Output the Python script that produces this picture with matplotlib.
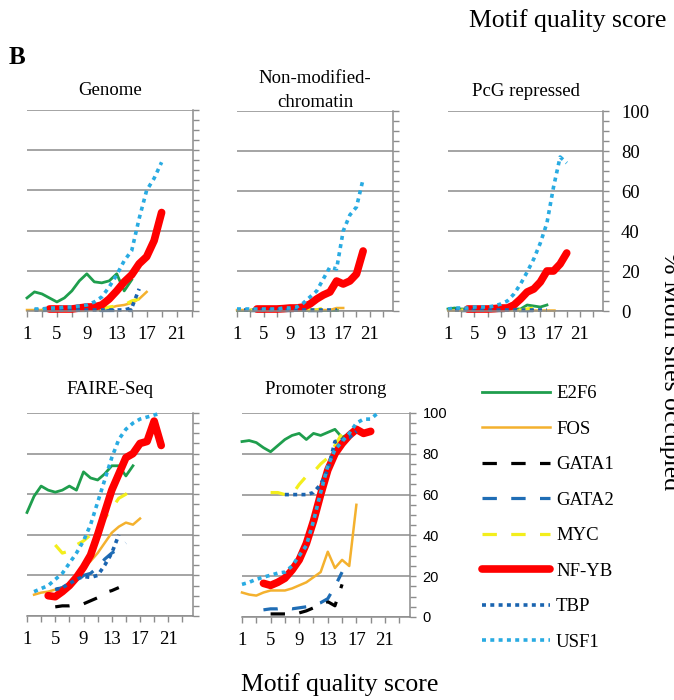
import matplotlib
matplotlib.use('Agg')
import matplotlib.pyplot as plt
from matplotlib.ticker import MultipleLocator
import numpy as np

plt.rcParams['font.family'] = 'Liberation Serif'

# each series: (first motif score, % sites occupied from that score on)
FACTORS = ['E2F6', 'FOS', 'GATA1', 'GATA2', 'MYC', 'NF-YB', 'TBP', 'USF1']

GENOME_E2F6 = (1, [6.5, 9.5, 8.5, 6.5, 4.5, 6.5, 10, 15, 18.5, 14.5, 14, 15, 18.5, 10, 15.5])
GENOME_FOS = (1, [0.5, 0.5, 0.5, 0.5, 0.5, 0.5, 0.5, 0.5, 0.5, 0.8, 1, 1.5, 2.5, 3, 4, 6, 9.5])
GENOME_GATA1 = (3, [0.3, 0.3, 0.3, 0.3, 0.3, 0.3, 0.3, 0.3, 0.3, 0.3, 0.3, 0.3, 0.5])
GENOME_GATA2 = (3, [0.5, 0.5, 0.5, 0.5, 0.5, 0.5, 0.5, 0.5, 0.5, 0.5, 0.5, 0.5, 0.5])
GENOME_MYC = (3, [0.5, 0.5, 0.5, 0.5, 0.5, 0.5, 0.5, 0.5, 1, 2, 2.5, 3, 5, 6])
GENOME_NFYB = (4, [1, 1, 1, 1, 1.5, 2, 2, 3, 6, 10, 14.5, 18, 23.5, 27, 35, 49])
GENOME_TBP = (2, [0.5, 0.5, 0.5, 0.5, 0.5, 0.5, 0.5, 0.5, 0.5, 0.5, 0.5, 0.5, 0.5, 1.5, 11])
GENOME_USF1 = (2, [1, 1, 1.5, 1.5, 2, 2, 2.5, 3, 4.5, 7, 12, 18, 25, 30, 46, 60, 66, 74])

NONMOD_E2F6 = (1, [0.5, 0.5, 0.5, 0.5, 0.5, 0.5, 0.5, 0.5, 0.5, 0.5, 0.5, 0.5, 0.5, 0.5, 0.5, 0.5])
NONMOD_FOS = (1, [0.5, 0.5, 0.5, 0.5, 0.5, 0.5, 0.5, 0.5, 0.5, 0.5, 0.5, 0.5, 0.5, 0.5, 0.5, 1.5, 1.5])
NONMOD_GATA1 = (3, [0.3, 0.3, 0.3, 0.3, 0.3, 0.3, 0.3, 0.3, 0.3, 0.3, 0.3, 0.3, 0.3])
NONMOD_GATA2 = (3, [0.3, 0.3, 0.3, 0.3, 0.3, 0.3, 0.3, 0.3, 0.3, 0.3, 0.3, 0.3, 0.3])
NONMOD_MYC = (3, [0.5, 0.5, 0.5, 0.5, 0.5, 0.5, 0.5, 0.5, 0.5, 0.5, 0.5, 1.5, 1.5, 1])
NONMOD_NFYB = (4, [1, 1, 1, 1, 1.2, 1.5, 1.5, 2, 3.5, 6, 8, 9.5, 15, 13.5, 15, 18.5, 30])
NONMOD_TBP = (2, [0.5, 0.5, 0.5, 0.5, 0.5, 0.5, 0.5, 0.5, 0.5, 0.5, 0.5, 0.5, 0.5, 0.5, 0.5])
NONMOD_USF1 = (1, [1, 1, 1, 1, 1, 1, 1, 1.5, 1.5, 2, 4, 7, 10, 16, 22, 21, 40, 48, 52, 66])

PCG_E2F6 = (1, [1, 1.5, 1, 1, 1, 1, 1, 1, 1, 1, 1, 1, 3, 2.5, 2, 3])
PCG_FOS = (1, [0.3, 0.3, 0.3, 0.3, 0.3, 0.3, 0.3, 0.3, 0.3, 0.3, 0.3, 0.3, 0.3, 0.3, 0.3, 0.3, 0.3])
PCG_GATA1 = (3, [0.3, 0.3, 0.3, 0.3, 0.3, 0.3, 0.3, 0.3, 0.3, 0.3, 0.3, 0.3, 0.3])
PCG_GATA2 = (3, [0.3, 0.3, 0.3, 0.3, 0.3, 0.3, 0.3, 0.3, 0.3, 0.3, 0.3, 0.3, 0.3])
PCG_MYC = (3, [0.5, 0.5, 0.5, 0.5, 0.5, 0.5, 0.5, 0.5, 0.5, 0.5, 1, 1.5, 1, 0.5])
PCG_NFYB = (4, [1, 1, 1, 1, 1.2, 1.5, 1.5, 3, 6, 9.5, 11, 14.5, 20, 20, 23.5, 29])
PCG_TBP = (2, [0.5, 0.5, 0.5, 0.5, 0.5, 0.5, 0.5, 0.5, 0.5, 0.5, 0.5, 0.5, 0.5, 0.5, 0.5])
PCG_USF1 = (1, [1, 1.5, 1.5, 1.5, 2, 2, 2, 2.5, 3.5, 5, 8.5, 13.5, 19.5, 26, 34, 44, 62, 77, 74])

FAIRE_E2F6 = (1, [51, 59, 64, 62, 61, 62, 64, 62, 71, 68, 67, 70, 74, 74, 69, 74])
FAIRE_FOS = (2, [10.5, 11.5, 12, 13, 14, 16, 19, 24, 27, 31, 36, 41, 44, 46, 45, 48])
FAIRE_GATA1 = (5, [4.5, 5, 5, 5.5, 6, 7.5, 9, 11.5, 12.5, 14])
FAIRE_GATA2 = (5, [13, 14, 15, 17, 20, 21, 24, 28, 31, 33, 36])
FAIRE_MYC = (5, [35, 31, 32, 35, 37, 40, 44, 48, 53, 58, 60, 63])
FAIRE_NFYB = (4, [10, 9.5, 12, 15, 19, 24, 30, 40, 51, 62, 70, 78, 80, 85, 86, 96, 84])
FAIRE_TBP = (5, [13, 14, 16, 18, 19.5, 19, 20, 25, 31, 40])
FAIRE_USF1 = (2, [12, 13.5, 15, 18, 21, 26, 31, 37, 45, 56, 67, 78, 87, 92, 95, 97, 98, 99, 100])

PROM_E2F6 = (1, [86, 86.5, 85.5, 83, 81, 84, 87, 89, 90, 87, 90, 89, 90.5, 92, 88, 90])
PROM_FOS = (1, [12, 11, 10.5, 12, 13, 13, 13, 14, 15.5, 17, 19.5, 22, 32, 24, 28, 25, 55])
PROM_GATA1 = (5, [1.5, 1.5, 1.5, 1.5, 2, 3, 4.5, 6, 7.5, 5.5, 16])
PROM_GATA2 = (4, [3.5, 4, 4, 4.5, 4, 4.5, 5, 6, 7, 9, 15, 22])
PROM_MYC = (5, [61, 61, 60, 60, 65, 69, 71, 75, 78, 84, 90, 95])
PROM_NFYB = (4, [16.5, 15.5, 17, 19, 23, 28, 36, 47, 60, 72, 80, 85, 89, 92, 90, 91])
PROM_TBP = (7, [60, 60, 60, 60, 61, 65, 72, 86, 87, 88, 91])
PROM_USF1 = (1, [16, 17, 18.5, 19.5, 20.5, 21.5, 22, 25, 30, 35, 47, 61, 74, 82, 86, 90, 95, 97, 97, 100])

GENOME = [GENOME_E2F6, GENOME_FOS, GENOME_GATA1, GENOME_GATA2,
          GENOME_MYC, GENOME_NFYB, GENOME_TBP, GENOME_USF1]
NONMOD = [NONMOD_E2F6, NONMOD_FOS, NONMOD_GATA1, NONMOD_GATA2,
          NONMOD_MYC, NONMOD_NFYB, NONMOD_TBP, NONMOD_USF1]
PCG = [PCG_E2F6, PCG_FOS, PCG_GATA1, PCG_GATA2,
       PCG_MYC, PCG_NFYB, PCG_TBP, PCG_USF1]
FAIRE = [FAIRE_E2F6, FAIRE_FOS, FAIRE_GATA1, FAIRE_GATA2,
         FAIRE_MYC, FAIRE_NFYB, FAIRE_TBP, FAIRE_USF1]
PROM = [PROM_E2F6, PROM_FOS, PROM_GATA1, PROM_GATA2,
        PROM_MYC, PROM_NFYB, PROM_TBP, PROM_USF1]

DASH = (0, (4.5, 4.5))
DOT = (0, (1.1, 1.2))
STYLES = {
    'E2F6': dict(color='#1f9e4d', lw=2.0, ls='-'),
    'FOS': dict(color='#f4b12e', lw=1.8, ls='-'),
    'GATA1': dict(color='black', lw=2.3, ls=DASH),
    'GATA2': dict(color='#1f6db5', lw=2.3, ls=DASH),
    'MYC': dict(color='#f3ee1c', lw=2.3, ls=DASH),
    'NF-YB': dict(color='#ff0000', lw=5.5, ls='-', solid_capstyle='round',
                  solid_joinstyle='round'),
    'TBP': dict(color='#1a64b0', lw=2.6, ls=DOT),
    'USF1': dict(color='#29abe2', lw=2.6, ls=DOT),
}

GRID = '#8c8c8c'
W, H = 674, 700


def px_axes(fig, x0, x1, y0, y1):
    """Add axes from pixel box (left, right, top, bottom)."""
    return fig.add_axes([x0 / W, 1 - y1 / H, (x1 - x0) / W, (y1 - y0) / H])


def draw_panel(ax, title, series, xmax, title_pad, ylabels=None):
    """Draw one chromatin state panel."""
    lines = []
    for name, (start, vals) in zip(FACTORS, series):
        x = np.arange(start, start + len(vals))
        ln, = ax.plot(x, vals, label=name, clip_on=False, **STYLES[name])
        lines.append(ln)

    ax.set_xlim(1, xmax)
    ax.set_ylim(0, 100)
    ax.set_title(title, fontsize=13.5, pad=title_pad, linespacing=1.5)

    for side in ['left', 'top']:
        ax.spines[side].set_visible(False)
    for side in ['bottom', 'right']:
        ax.spines[side].set_color(GRID)
        ax.spines[side].set_linewidth(1.1)

    ax.set_xticks([1, 5, 9, 13, 17, 21])
    ax.set_xticks([3, 7, 11, 15, 19, 23], minor=True)
    ax.tick_params(axis='x', which='both', direction='out', length=4,
                   width=1, color=GRID, labelsize=13.5, pad=7)

    ax.yaxis.tick_right()
    ax.yaxis.set_major_locator(MultipleLocator(20))
    ax.yaxis.set_minor_locator(MultipleLocator(5))
    ax.tick_params(axis='y', which='both', direction='out', length=4,
                   width=1, color=GRID)
    ax.yaxis.grid(True, color=GRID, lw=1.1)
    ax.set_axisbelow(True)

    if ylabels is None:
        ax.tick_params(axis='y', labelright=False)
    else:
        family, size, pad = ylabels
        ax.tick_params(axis='y', labelsize=size, pad=pad)
        for lab in ax.get_yticklabels():
            lab.set_family(family)
    return lines


fig = plt.figure(figsize=(W / 100, H / 100), dpi=100)
fig.patch.set_facecolor('white')

ax_gen = px_axes(fig, 27, 193, 110, 311)
ax_non = px_axes(fig, 237, 393, 111, 311)
ax_pcg = px_axes(fig, 448, 603, 111, 311)
ax_fai = px_axes(fig, 27, 193, 413, 616)
ax_pro = px_axes(fig, 242, 410, 413, 617)

draw_panel(ax_gen, 'Genome', GENOME, 23.2, 11)
draw_panel(ax_non, 'Non-modified-\nchromatin', NONMOD, 24.5, 3)
draw_panel(ax_pcg, 'PcG repressed', PCG, 24.5, 11,
           ylabels=('Liberation Serif', 13.5, 9))
draw_panel(ax_fai, 'FAIRE-Seq', FAIRE, 24.5, 14)
handles = draw_panel(ax_pro, 'Promoter strong', PROM, 24.5, 14,
                     ylabels=('Liberation Sans', 10.5, 5))

fig.legend(handles, FACTORS, loc='upper left',
           bbox_to_anchor=(482 / W, 1 - 385 / H), frameon=False,
           fontsize=13.5, handlelength=3.6, handletextpad=0.35,
           labelspacing=0.98, borderpad=0, borderaxespad=0)

fig.text(17 / W, 1 - 57 / H, 'B', fontsize=18, fontweight='bold',
         ha='center', va='center')
fig.text(568 / W, 1 - 21 / H, 'Motif quality score', fontsize=18.5,
         ha='center', va='center')
fig.text(340 / W, 1 - 685 / H, 'Motif quality score', fontsize=18.5,
         ha='center', va='center')
fig.text(670 / W, 1 - 371 / H, '% Motif sites occupied', fontsize=18.5,
         rotation=270, ha='center', va='center')

plt.savefig('out.png', dpi=100)
